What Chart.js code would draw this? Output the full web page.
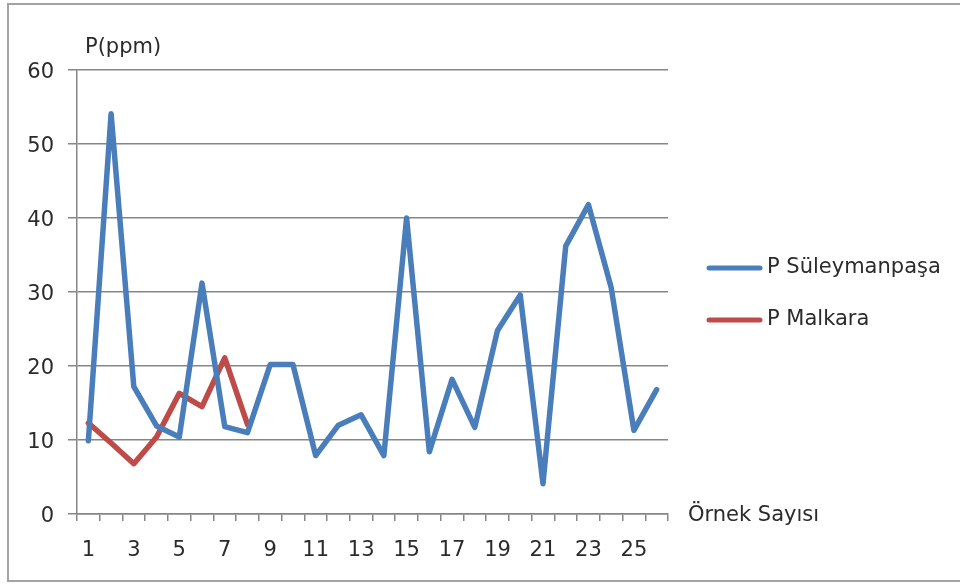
<!DOCTYPE html>
<html>
<head>
<meta charset="utf-8">
<title>P(ppm)</title>
<script src="https://cdn.jsdelivr.net/npm/chart.js@4/dist/chart.umd.min.js"></script>
<style>
  html, body { margin: 0; padding: 0; background: #fff; overflow: hidden; }
  #wrap { width: 960px; height: 586px; }
</style>
</head>
<body>
<div id="wrap"><canvas id="pChart" width="960" height="586"></canvas></div>
<script>
/* ========================================
   DATA
======================================== */
const sampleNumbers = Array.from({ length: 26 }, (_, i) => String(i + 1));

const suleymanpasaValues = [
  9.9, 54.1, 17.2, 11.9, 10.4, 31.2, 11.8, 11.0, 20.2, 20.2,
  7.9, 12.0, 13.4, 7.9, 40.0, 8.4, 18.2, 11.7, 24.8, 29.6,
  4.1, 36.2, 41.8, 30.6, 11.3, 16.8
];

const malkaraValues = [12.3, 9.6, 6.8, 10.4, 16.3, 14.5, 21.1, 12.1];

const yTicks = [0, 10, 20, 30, 40, 50, 60];

const FONT = "'DejaVu Sans', sans-serif";
const FONT_SIZE = 21;
const TEXT = "#2b2b2b";
const GRID = "#868686";

/* ========================================
   EXTRA DRAWING: frame, axis titles, legend
======================================== */
const decorPlugin = {
  id: "decor",
  afterDraw(chart) {
    const ctx = chart.ctx;
    ctx.save();

    // outer frame: top, left, bottom (right side is cut off)
    ctx.strokeStyle = "#a3a3a3";
    ctx.lineWidth = 2;
    ctx.beginPath();
    ctx.moveTo(960, 4);
    ctx.lineTo(8, 4);
    ctx.lineTo(8, 581);
    ctx.lineTo(960, 581);
    ctx.stroke();

    ctx.fillStyle = TEXT;
    ctx.font = FONT_SIZE + "px " + FONT;
    ctx.textBaseline = "middle";
    ctx.textAlign = "left";
    ctx.fillText("P(ppm)", 85, 48);
    ctx.fillText("Örnek Sayısı", 688, 516);

    // legend
    const rows = [268, 320];
    chart.data.datasets.forEach((ds, i) => {
      ctx.strokeStyle = ds.borderColor;
      ctx.lineWidth = 5;
      ctx.lineCap = "round";
      ctx.beginPath();
      ctx.moveTo(709, rows[i]);
      ctx.lineTo(760, rows[i]);
      ctx.stroke();
      ctx.fillText(ds.label, 767, rows[i]);
    });

    ctx.restore();
  }
};

/* ========================================
   CHART
======================================== */
new Chart(document.getElementById("pChart"), {
  type: "line",
  data: {
    labels: sampleNumbers,
    datasets: [
      {
        label: "P Süleymanpaşa",
        data: suleymanpasaValues,
        borderColor: "#4a7ebb",
        borderWidth: 5.5,
        pointRadius: 0,
        tension: 0,
        borderJoinStyle: "round",
        borderCapStyle: "round"
      },
      {
        label: "P Malkara",
        data: malkaraValues,
        borderColor: "#be4b48",
        borderWidth: 5.5,
        pointRadius: 0,
        tension: 0,
        borderJoinStyle: "round",
        borderCapStyle: "round"
      }
    ]
  },
  options: {
    responsive: false,
    animation: false,
    layout: { padding: { top: 70, right: 292, bottom: 0, left: 0 } },
    plugins: {
      legend: { display: false },
      tooltip: { enabled: false }
    },
    scales: {
      x: {
        offset: true,
        border: { color: GRID, width: 1.5 },
        grid: {
          offset: true,
          drawOnChartArea: false,
          drawTicks: true,
          tickLength: 7,
          color: GRID,
          lineWidth: 1.5
        },
        ticks: {
          autoSkip: false,
          maxRotation: 0,
          padding: 17,
          color: TEXT,
          font: { family: FONT, size: FONT_SIZE },
          callback: (v, i) => (i % 2 === 0 ? sampleNumbers[i] : "")
        },
        afterFit: scale => { scale.height = 72; }
      },
      y: {
        min: yTicks[0],
        max: yTicks[yTicks.length - 1],
        border: { color: GRID, width: 1.5 },
        grid: {
          color: GRID,
          lineWidth: 1.5,
          tickLength: 9
        },
        ticks: {
          stepSize: 10,
          padding: 14,
          labelOffset: 3,
          color: TEXT,
          font: { family: FONT, size: FONT_SIZE }
        },
        afterBuildTicks: scale => {
          scale.ticks = yTicks.map(v => ({ value: v }));
        },
        afterFit: scale => { scale.width = 77; }
      }
    }
  },
  plugins: [decorPlugin]
});
</script>
</body>
</html>
